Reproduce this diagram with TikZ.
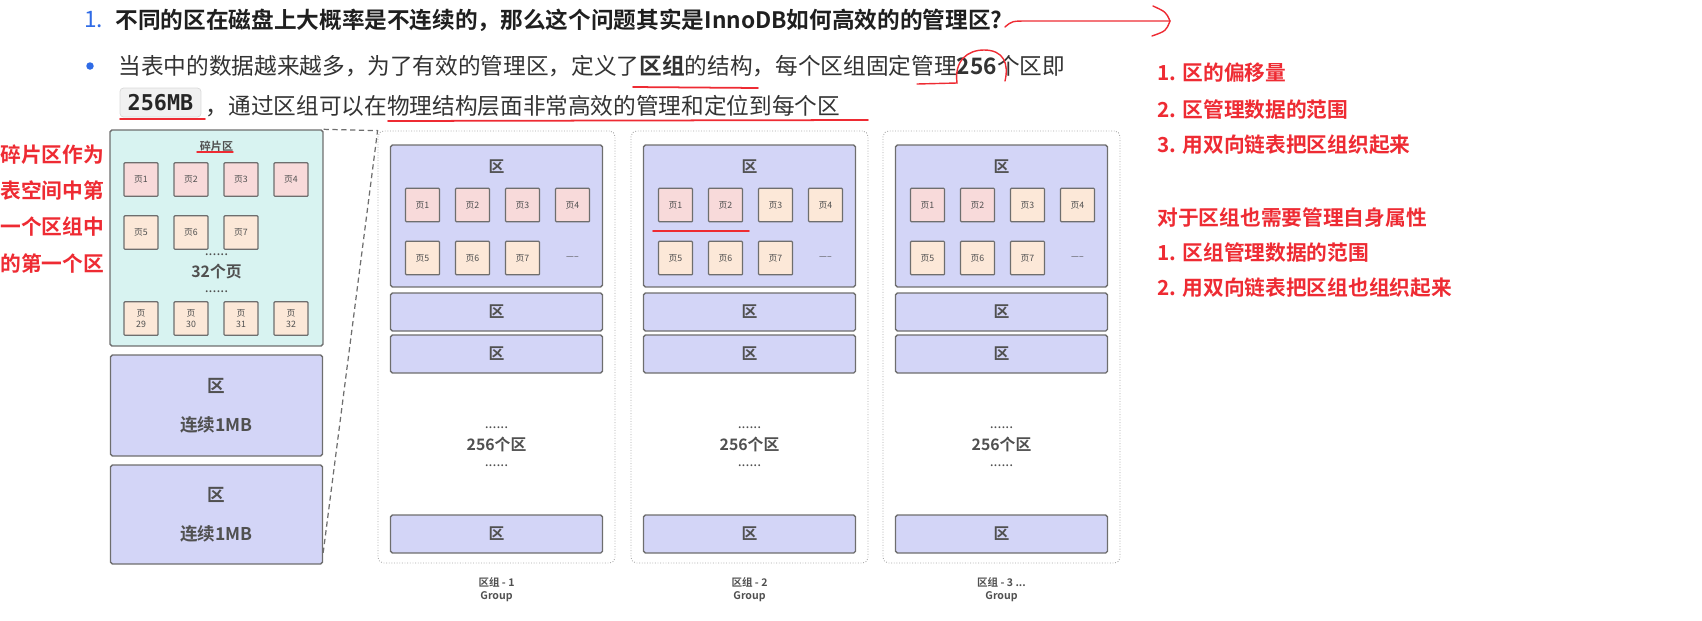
\documentclass[tikz,border=0pt]{standalone}
\usepackage{fontspec}
\setmainfont{Noto Sans CJK SC}[BoldFont={Noto Sans CJK SC Bold}]
\newfontfamily\codefont{DejaVu Sans Mono}
\usetikzlibrary{positioning,calc}
\definecolor{ZoneFill}{HTML}{D3D5F7}
\definecolor{FragFill}{HTML}{D8F3F1}
\definecolor{PinkPage}{HTML}{F8DADA}
\definecolor{PeachPage}{HTML}{FCE8D8}
\definecolor{EdgeGray}{HTML}{6E6E6E}
\definecolor{InkGray}{HTML}{505050}
\definecolor{NoteRed}{HTML}{EE2B33}
\definecolor{ListBlue}{HTML}{2F6BE6}
\definecolor{CodeBack}{HTML}{F1F1F1}

\begin{document}
\begin{tikzpicture}[x=0.02cm,y=-0.02cm,
  zone/.style={draw=EdgeGray,fill=ZoneFill,line width=0.8pt,rounded corners=1pt,minimum width=4.24cm,inner sep=0pt,text=InkGray,font=\bfseries\fontsize{9}{11}\selectfont},
  page/.style={draw=EdgeGray,line width=0.7pt,rounded corners=0.5pt,minimum width=0.68cm,minimum height=0.67cm,inner sep=0pt,align=center,text=InkGray,font=\fontsize{5}{6.5}\selectfont},
  pinkpage/.style={page,fill=PinkPage},
  peachpage/.style={page,fill=PeachPage},
  grp/.style={draw=gray!70,densely dotted,line width=0.5pt,rounded corners=3pt,minimum width=4.74cm,minimum height=8.64cm},
  note/.style={anchor=west,inner sep=0pt,text=NoteRed,font=\bfseries\fontsize{11.8}{13}\selectfont},
  body/.style={anchor=west,inner sep=0pt,text=black!80,font=\fontsize{12.9}{15}\selectfont},
  grey/.style={text=InkGray,inner sep=0pt,font=\bfseries\fontsize{9}{11}\selectfont},
  dots/.style={text=InkGray,inner sep=0pt,font=\fontsize{8}{8}\selectfont},
  redline/.style={draw=NoteRed,line width=1pt,line cap=round}
]
\useasboundingbox (0,0) rectangle (1702,620);

% text above the picture
\node[body,text=ListBlue] (num) at (84,20) {1.};
\node[body,font=\bfseries\fontsize{12.9}{15}\selectfont,text=black!88] (title) at (115,20) {不同的区在磁盘上大概率是不连续的，那么这个问题其实是InnoDB如何高效的的管理区?};
\node[circle,fill=ListBlue,inner sep=0pt,minimum size=0.15cm] (bullet) at (90,66) {};
\node[body] (line2) at (118,66) {当表中的数据越来越多，为了有效的管理区，定义了\textbf{区组}的结构，每个区组固定管理\textbf{256}个区即};
\node[draw=gray!30,fill=CodeBack,rounded corners=2pt,minimum width=1.62cm,minimum height=0.58cm,inner sep=0pt,text=black!85,font=\codefont\bfseries\fontsize{12.4}{13}\selectfont] (code) at (160.5,102.5) {256MB};
\node[body,right=0.08cm of code,yshift=-0.08cm] (line3) {，通过区组可以在物理结构层面非常高效的管理和定位到每个区};

% red notes
\node[note] (n1) at (0,155) {碎片区作为};
\node[note] (n2) at (0,191) {表空间中第};
\node[note] (n3) at (0,227) {一个区组中};
\node[note] (n4) at (0,264) {的第一个区};
\node[note] (r1) at (1157,73) {1. 区的偏移量};
\node[note] (r2) at (1157,110) {2. 区管理数据的范围};
\node[note] (r3) at (1157,145) {3. 用双向链表把区组织起来};
\node[note] (r4) at (1157,218) {对于区组也需要管理自身属性};
\node[note] (r5) at (1157,253) {1. 区组管理数据的范围};
\node[note] (r6) at (1157,288) {2. 用双向链表把区组也组织起来};

% first zone of the space: fragment zone
\node[draw=EdgeGray,fill=FragFill,line width=0.8pt,rounded corners=1pt,minimum width=4.26cm,minimum height=4.32cm] (frag) at (216.5,238) {};
\node[text=InkGray,inner sep=0pt,font=\bfseries\fontsize{6.3}{7}\selectfont] (fragt) at (216.5,146) {碎片区};
\node[pinkpage] (f1) at (141,179.5) {页1};
\node[pinkpage] (f2) at (191,179.5) {页2};
\node[pinkpage] (f3) at (241,179.5) {页3};
\node[pinkpage] (f4) at (291,179.5) {页4};
\node[peachpage] (f5) at (141,232.5) {页5};
\node[peachpage] (f6) at (191,232.5) {页6};
\node[peachpage] (f7) at (241,232.5) {页7};
\node[dots] (fd1) at (216.5,255) {......};
\node[grey] (fcount) at (216.5,271) {32个页};
\node[dots] (fd2) at (216.5,292) {......};
\node[peachpage] (f29) at (141,318.5) {页\\29};
\node[peachpage] (f30) at (191,318.5) {页\\30};
\node[peachpage] (f31) at (241,318.5) {页\\31};
\node[peachpage] (f32) at (291,318.5) {页\\32};
\node[zone,minimum height=2.02cm,align=center,font=\bfseries\fontsize{10}{22}\selectfont] (zoneA) at (216.5,405.5) {区\\连续1MB};
\node[zone,minimum height=1.98cm,align=center,font=\bfseries\fontsize{10}{22}\selectfont] (zoneB) at (216.5,514.5) {区\\连续1MB};

% zone groups
\foreach \i/\cx/\pc/\lab in {1/496.5/PinkPage/1, 2/749.5/PeachPage/2, 3/1001.5/PeachPage/{3 ...}} {
  \node[grp] (g\i) at (\cx,347) {};
  \node[zone,minimum height=2.84cm] (g\i z1) at (\cx,216) {};
  \node[grey] (g\i t) at (\cx,167) {区};
  \node[pinkpage] (g\i p1) at (\cx-74,205) {页1};
  \node[pinkpage] (g\i p2) at (\cx-24,205) {页2};
  \node[page,fill=\pc] (g\i p3) at (\cx+26,205) {页3};
  \node[page,fill=\pc] (g\i p4) at (\cx+76,205) {页4};
  \node[peachpage] (g\i p5) at (\cx-74,258) {页5};
  \node[peachpage] (g\i p6) at (\cx-24,258) {页6};
  \node[peachpage] (g\i p7) at (\cx+26,258) {页7};
  \node[text=InkGray,font=\fontsize{5}{5}\selectfont] (g\i more) at (\cx+76,258) {-----};
  \node[zone,minimum height=0.76cm] (g\i z2) at (\cx,312) {区};
  \node[zone,minimum height=0.76cm] (g\i z3) at (\cx,354) {区};
  \node[dots] (g\i d1) at (\cx,428) {......};
  \node[grey] (g\i n) at (\cx,444) {256个区};
  \node[dots] (g\i d2) at (\cx,466) {......};
  \node[zone,minimum height=0.76cm] (g\i zl) at (\cx,534) {区};
  \node[text=InkGray,align=center,font=\bfseries\fontsize{6}{7.4}\selectfont] (g\i lab) at (\cx,590) {区组 - \lab\\Group};
}

% zoom lines from the first group
\draw[densely dashed,EdgeGray,line width=0.7pt] (frag.north east) -- (g1.north west) -- ([yshift=0.24cm]zoneB.south east);

% red hand marks
\coordinate (tip) at (1170,21);
\draw[redline,line width=0.8pt] ($(title.east)+(2,7)$) .. controls (1012,21) .. (1028,21) -- (tip);
\draw[redline,line width=0.8pt] (1153,6) .. controls (1166,12) .. (tip) .. controls (1166,31) .. (1152,36);
\draw[redline] (633,87) -- (758,88);
\draw[redline,line width=0.8pt] (917,84) -- (957,83) .. controls (954,60) and (968,50) .. (984,50) .. controls (1004,50) and (1009,64) .. (1005,81);
\draw[redline] (120,119) -- (205,119);
\draw[redline] (388,121) -- (868,120);
\draw[redline,line width=0.8pt] (197,152) -- (233,152);
\draw[redline] (653,231) -- (749,231);
\end{tikzpicture}
\end{document}
